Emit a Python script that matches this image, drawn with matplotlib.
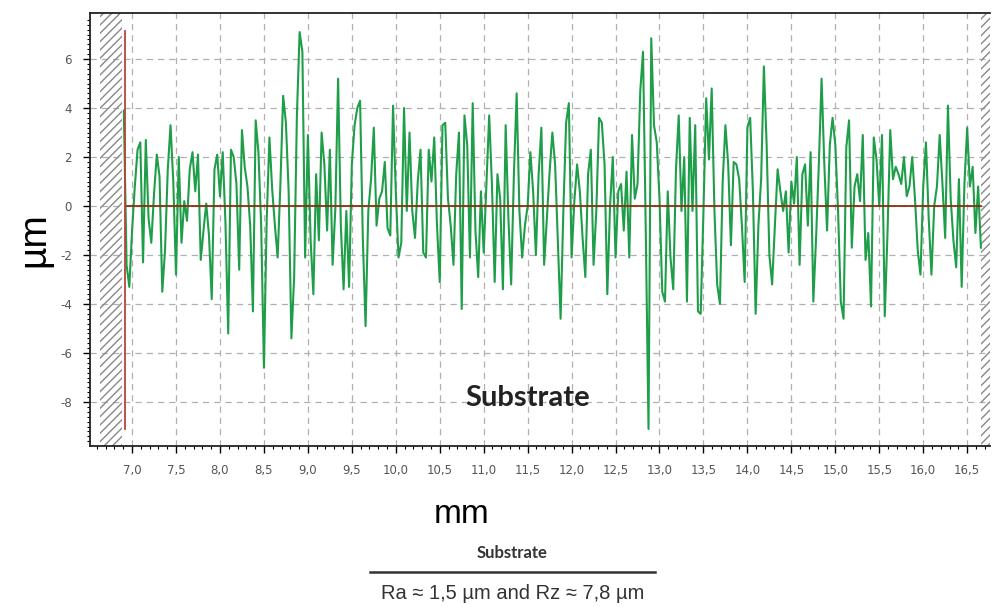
import numpy as np
import matplotlib
matplotlib.use("Agg")
import matplotlib.pyplot as plt

step_mm = 1 / 32
z_head = [3.9, -2.4, -3.3]          # 6.906 .. 6.969 mm
z_07 = [-1.0, 0.8, 2.3, 2.6, -2.3, 2.7, -0.5, -1.5, 0.5, 2.1, 1.2, -3.5, -1.8, 1.5, 3.3, 1.0,
        -2.8, 2.0, -1.5, 0.2, -0.6, 1.5, 2.2, 0.6, 2.1, -2.2, -1.0, 0.1, -1.2, -3.8, 1.5, 2.1]
z_08 = [0.4, 2.2, -0.7, -5.2, 2.3, 2.0, 0.9, -2.6, 3.1, 1.6, 0.8, -0.8, -4.3, 3.5, 2.2, -0.8,
        -6.6, -0.6, 2.8, 0.7, -0.8, -2.1, 0.9, 4.5, 3.4, 0.6, -5.4, -2.9, 3.7, 7.1, 6.3, -2.1]
z_09 = [2.9, -1.4, -3.6, 1.3, -1.4, 3.0, 1.7, -1.0, 2.3, -2.4, -0.1, 5.2, -0.8, -3.4, -0.2, -3.3,
        1.7, 3.3, 4.0, 4.3, -1.3, -4.9, -0.2, 1.1, 3.2, -0.8, 0.3, 0.6, 1.8, -0.9, -1.2, 4.1]
z_10 = [0.6, -2.1, -1.5, 4.0, -0.2, 3.0, -0.2, -1.3, 1.0, 2.3, -1.9, -2.1, 2.3, 1.0, 2.8, -0.8,
        -3.1, 3.3, 3.4, 0.3, -0.8, -2.4, 1.3, 3.0, -4.2, 3.7, 2.5, -2.1, 4.2, -1.0, -2.9, 0.6]
z_11 = [-1.9, 0.9, 3.7, 0.9, -3.1, 1.3, 0.3, -3.4, 3.3, -0.5, -3.2, 1.3, 4.6, -0.2, -2.1, -0.8,
        0.0, 2.2, 0.6, -2.0, 1.3, 3.2, -2.4, -0.5, 1.4, 3.0, 1.7, -1.4, -4.6, -0.2, 3.4, 4.2]
z_12 = [-2.1, 0.2, 1.7, 0.6, -1.3, -2.9, 1.3, 2.3, -2.4, -0.2, 3.6, 3.4, 1.7, -3.6, 0.0, 2.0,
        -2.1, 0.6, 0.9, -1.0, 1.4, -2.1, 2.9, 0.3, 0.9, 4.7, 6.3, -1.0, -9.1, 6.85, 3.3, 2.6]
z_13 = [0.3, -3.5, -3.9, 0.6, -2.1, -3.4, 1.5, 3.7, -0.2, 2.0, -3.9, 3.6, -0.2, 3.3, -4.3, -4.4,
        -0.2, 4.4, 1.9, 4.8, -0.2, -3.2, -4.0, 1.0, 3.3, 1.7, -1.6, 1.8, 1.7, 1.1, -0.8, -3.1]
z_14 = [3.2, 3.6, 0.6, -4.4, -0.8, 1.1, 5.7, 2.5, -2.0, -3.2, -0.8, 1.5, 0.6, -0.2, 0.6, -1.9,
        1.0, 0.1, 2.0, -2.4, 1.3, 1.7, -0.8, 2.2, -3.9, -1.3, 1.7, 5.2, 1.7, -1.0, 2.5, 3.6]
z_15 = [2.5, -0.2, -3.9, -4.6, 2.4, 3.5, -1.7, 0.8, 1.3, 0.2, 2.9, -2.2, -1.1, -4.1, 2.8, 1.9,
        0.0, 2.9, -4.5, -1.1, 3.1, 1.1, 1.6, 1.3, 0.9, 2.0, 0.4, 0.8, 2.0, 0.3, -1.8, -2.8]
z_16 = [0.8, 2.6, -0.5, -2.8, 0.0, 0.8, 2.9, 0.9, -1.3, 4.1, 0.3, -1.4, -2.5, 1.1, -3.3, 0.9,
        3.2, 0.8, 1.6, -1.1, 0.8, -1.7]

z = np.array(z_head + z_07 + z_08 + z_09 + z_10 + z_11 + z_12 + z_13 + z_14 + z_15 + z_16)
x = 7.0 + (np.arange(len(z)) - len(z_head)) * step_mm

x_ticks = np.arange(7.0, 16.51, 0.5)
y_ticks = np.arange(-8, 7, 2)

fig = plt.figure(figsize=(9.95, 6.07), dpi=100)
ax = fig.add_axes([0.0905, 0.265, 0.9045, 0.7136])

# hatched dead zones at both ends
ax.axvspan(6.636, 6.885, facecolor="none", edgecolor="#888888", hatch="////", linewidth=0)
ax.axvspan(16.655, 16.76, facecolor="none", edgecolor="#888888", hatch="////", linewidth=0)

ax.plot(x, z, color="#1f9e4a", linewidth=1.5, zorder=3)
ax.plot([x[1], x[-1]], [0, 0], color="#8b2e0f", linewidth=1.3, zorder=4)
ax.plot([6.915, 6.915], [-9.1, 7.15], color="#b5473a", linewidth=1.3, zorder=4)

ax.set_xlim(6.522, 16.76)
ax.set_ylim(-9.8, 7.88)
ax.set_xticks(x_ticks)
ax.set_xticklabels([f"{v:.1f}".replace(".", ",") for v in x_ticks])
ax.set_yticks(y_ticks)
ax.set_yticklabels([str(v) for v in y_ticks])
ax.set_xticks(np.arange(6.6, 16.75, 0.1), minor=True)
ax.set_yticks(np.arange(-9.6, 7.7, 0.2), minor=True)
ax.tick_params(which="major", direction="out", length=5, width=1, labelsize=8.5,
               labelcolor="#555555", pad=8)
ax.tick_params(which="minor", direction="out", length=2.5, width=0.8)
ax.grid(True, which="major", linestyle=(0, (5, 4)), color="#b0b0b0", linewidth=0.9)
ax.set_axisbelow(True)
ax.spines["right"].set_visible(False)
for s in ["left", "bottom", "top"]:
    ax.spines[s].set_linewidth(1.3)
    ax.spines[s].set_color("#222222")

ax.text(0.486, 0.11, "Substrate", transform=ax.transAxes, ha="center", va="center",
        fontsize=21, fontweight="bold", family=["Lato", "DejaVu Sans"], color="#222222")

narrow = ["Liberation Sans Narrow", "Liberation Sans", "DejaVu Sans"]
fig.text(0.035, 0.605, "µm", rotation=90, ha="center", va="center", fontsize=28, family=narrow)
fig.text(0.464, 0.152, "mm", ha="center", va="center", fontsize=24, family=narrow)

fig.text(0.515, 0.089, "Substrate", ha="center", va="center", fontsize=12,
         fontweight="bold", family=["Lato", "DejaVu Sans"], color="#333333")
fig.add_artist(plt.Line2D([0.372, 0.658], [0.058, 0.058], color="#333333", linewidth=1.8))
fig.text(0.515, 0.023, "Ra ≈ 1,5 µm and Rz ≈ 7,8 µm", ha="center", va="center", fontsize=14.5,
         family=narrow, color="#333333")

fig.savefig("out.png", dpi=100)
